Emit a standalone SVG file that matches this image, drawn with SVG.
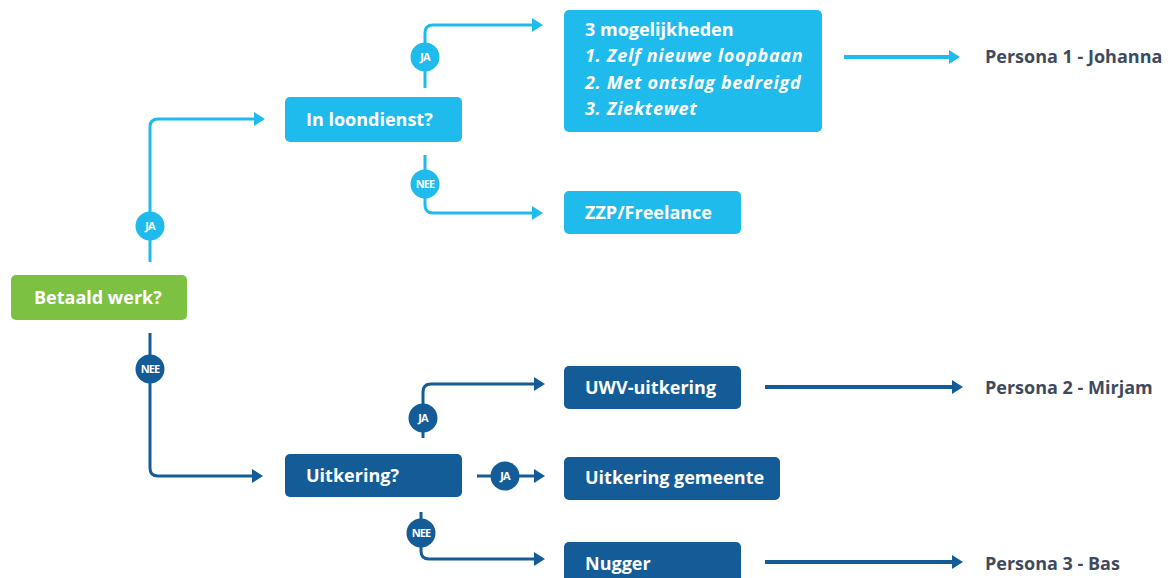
<svg xmlns="http://www.w3.org/2000/svg" width="1173" height="578" viewBox="0 0 1173 578">
<style>
.lt{fill:#1fbbec}
.dk{fill:#145c98}
.gr{fill:#7cc142}
.cl{fill:none;stroke:#1fbbec;stroke-width:3}
.cd{fill:none;stroke:#145c98;stroke-width:3}
.thk{stroke-width:4}
.t{font-family:"Open Sans","Liberation Sans",sans-serif;font-weight:700;font-size:18px;fill:#fff}
.ti{font-style:italic;letter-spacing:0.7px}
.p{font-family:"Open Sans","Liberation Sans",sans-serif;font-weight:700;font-size:18px;fill:#3f4b5d}
.b{font-family:"Open Sans","Liberation Sans",sans-serif;font-weight:700;font-size:11px;fill:#fff;letter-spacing:-0.9px}
</style>
<defs>
<marker id="al" markerUnits="userSpaceOnUse" markerWidth="12" markerHeight="14" refX="0" refY="7" orient="auto" overflow="visible"><path d="M0,0 L11,7 L0,14 z" fill="#1fbbec"/></marker>
<marker id="ad" markerUnits="userSpaceOnUse" markerWidth="12" markerHeight="14" refX="0" refY="7" orient="auto" overflow="visible"><path d="M0,0 L11,7 L0,14 z" fill="#145c98"/></marker>
</defs>
<rect width="1173" height="578" fill="#fff"/>
<g id="connectors">
<path class="cl" d="M150,262 V127 Q150,119 158,119 H254" marker-end="url(#al)"/>
<path class="cl" d="M425,88 V33 Q425,25 433,25 H532" marker-end="url(#al)"/>
<path class="cl" d="M425,155 V205 Q425,213 433,213 H532" marker-end="url(#al)"/>
<path class="cl thk" d="M844,57 H949" marker-end="url(#al)"/>
<path class="cd" d="M150,333 V468 Q150,476 158,476 H252" marker-end="url(#ad)"/>
<path class="cd" d="M423,438 V392 Q423,384 431,384 H534" marker-end="url(#ad)"/>
<path class="cd" d="M477,476 H534" marker-end="url(#ad)"/>
<path class="cd" d="M421,512 V551 Q421,559 429,559 H534" marker-end="url(#ad)"/>
<path class="cd thk" d="M765,387 H952" marker-end="url(#ad)"/>
<path class="cd thk" d="M765,562 H952" marker-end="url(#ad)"/>
<g id="labels">
<circle class="lt" cx="150" cy="226" r="14.5"/><text class="b" x="150" y="230" text-anchor="middle">JA</text>
<circle class="lt" cx="425" cy="57" r="14.5"/><text class="b" x="425" y="61" text-anchor="middle">JA</text>
<circle class="lt" cx="425" cy="184" r="14.5"/><text class="b" x="425" y="188" text-anchor="middle">NEE</text>
<circle class="dk" cx="150" cy="369" r="14.5"/><text class="b" x="150" y="373" text-anchor="middle">NEE</text>
<circle class="dk" cx="423" cy="418" r="14.5"/><text class="b" x="423" y="422" text-anchor="middle">JA</text>
<circle class="dk" cx="505" cy="476" r="14.5"/><text class="b" x="505" y="480" text-anchor="middle">JA</text>
<circle class="dk" cx="421" cy="533" r="14.5"/><text class="b" x="421" y="537" text-anchor="middle">NEE</text>
</g>
</g>
<g id="betaald-werk"><rect class="gr" x="11" y="275" width="176" height="45" rx="5"/><text class="t" x="34" y="304">Betaald werk?</text></g>
<g id="in-loondienst"><rect class="lt" x="285" y="97" width="177" height="45" rx="5"/><text class="t" x="306" y="126">In loondienst?</text></g>
<g id="mogelijkheden"><rect class="lt" x="564" y="10" width="258" height="122" rx="5"/>
<text class="t" x="585" y="36">3 mogelijkheden</text>
<text class="t ti" x="585" y="62">1. Zelf nieuwe loopbaan</text>
<text class="t ti" x="585" y="89">2. Met ontslag bedreigd</text>
<text class="t ti" x="585" y="115">3. Ziektewet</text></g>
<g id="zzp"><rect class="lt" x="564" y="191" width="177" height="43" rx="5"/><text class="t" x="585" y="219">ZZP/Freelance</text></g>
<g id="uitkering"><rect class="dk" x="285" y="454" width="177" height="43" rx="5"/><text class="t" x="306" y="482">Uitkering?</text></g>
<g id="uwv"><rect class="dk" x="564" y="366" width="177" height="43" rx="5"/><text class="t" x="585" y="394">UWV-uitkering</text></g>
<g id="gemeente"><rect class="dk" x="564" y="457" width="216" height="43" rx="5"/><text class="t" x="585" y="484">Uitkering gemeente</text></g>
<g id="nugger"><rect class="dk" x="564" y="542" width="177" height="43" rx="5"/><text class="t" x="585" y="570">Nugger</text></g>
<g id="persona1"><text class="p" x="985" y="63">Persona 1 - Johanna</text></g>
<g id="persona2"><text class="p" x="985" y="394">Persona 2 - Mirjam</text></g>
<g id="persona3"><text class="p" x="985" y="570">Persona 3 - Bas</text></g>
</svg>
